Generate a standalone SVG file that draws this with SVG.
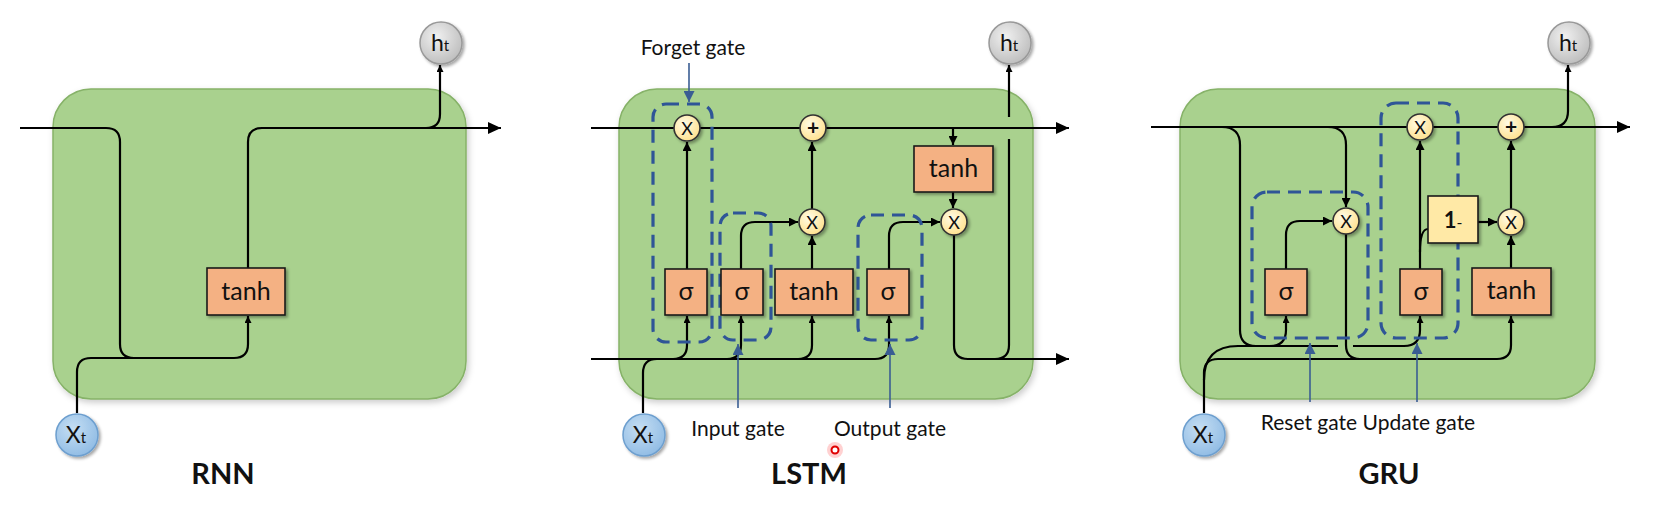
<svg xmlns="http://www.w3.org/2000/svg" width="1662" height="510" viewBox="0 0 1662 510">
<defs>
<filter id="sh" x="-20%" y="-20%" width="140%" height="140%"><feDropShadow dx="2" dy="2" stdDeviation="1.8" flood-color="#000" flood-opacity="0.35"/></filter>
<filter id="shc" x="-10%" y="-10%" width="120%" height="120%"><feDropShadow dx="2" dy="3" stdDeviation="3" flood-color="#000" flood-opacity="0.2"/></filter>
<radialGradient id="yg" cx="40%" cy="35%" r="70%"><stop offset="0" stop-color="#fffbe6"/><stop offset="1" stop-color="#ffe08a"/></radialGradient>
<radialGradient id="gg" cx="40%" cy="35%" r="70%"><stop offset="0" stop-color="#f0f0f0"/><stop offset="1" stop-color="#bcbcbc"/></radialGradient>
<radialGradient id="bg" cx="40%" cy="35%" r="70%"><stop offset="0" stop-color="#c5def3"/><stop offset="1" stop-color="#8fbbe4"/></radialGradient>
<marker id="ab" markerUnits="userSpaceOnUse" markerWidth="14" markerHeight="12" refX="13" refY="6" orient="auto"><path d="M0,0 L13,6 L0,12 Z" fill="#000"/></marker>
<marker id="as" markerUnits="userSpaceOnUse" markerWidth="10" markerHeight="9" refX="9" refY="4.5" orient="auto"><path d="M0,0 L9,4.5 L0,9 Z" fill="#000"/></marker>
<marker id="at" markerUnits="userSpaceOnUse" markerWidth="8" markerHeight="7" refX="7" refY="3.5" orient="auto"><path d="M0,0 L7,3.5 L0,7 Z" fill="#000"/></marker>
<marker id="ap" markerUnits="userSpaceOnUse" markerWidth="12" markerHeight="11" refX="11" refY="5.5" orient="auto"><path d="M0,0 L11,5.5 L0,11 Z" fill="#3a5d93"/></marker>
</defs>
<style>
.cell{fill:#a9d18e;stroke:#86b268;stroke-width:1.5;filter:url(#shc)}
.box{fill:#f4b183;stroke:#1a1a1a;stroke-width:1.6;filter:url(#sh)}
.one{fill:#ffe9a6;stroke:#1a1a1a;stroke-width:1.6;filter:url(#sh)}
.op{fill:url(#yg);stroke:#333;stroke-width:1.6;filter:url(#sh)}
.ht{fill:url(#gg);stroke:#999;stroke-width:1.5;filter:url(#sh)}
.xt{fill:url(#bg);stroke:#6d9fcf;stroke-width:1.5;filter:url(#sh)}
.ln{fill:none;stroke:#000;stroke-width:2.2}
.big{marker-end:url(#ab)}
.sm{marker-end:url(#as)}
.tn{marker-end:url(#at)}
.dash{fill:none;stroke:#2f5597;stroke-width:3.2;stroke-dasharray:13 8}
.ptr{fill:none;stroke:#3a5d93;stroke-width:1.6;marker-end:url(#ap)}
text{font-family:Lato,'Open Sans','Liberation Sans',sans-serif;fill:#111}
.bt{font-size:25px;text-anchor:middle}
.ot{font-size:18px;text-anchor:middle}
.pl{font-size:21px;font-weight:bold;text-anchor:middle}
.lb{font-size:21px}
.tt{font-size:29px;font-weight:bold;text-anchor:middle}
.cv{font-size:23px;text-anchor:middle}
</style>
<rect width="1662" height="510" fill="#fff"/>

<!-- ================= RNN ================= -->
<g id="rnn-cell"><rect class="cell" x="53" y="89" width="413" height="310" rx="38"/></g>
<g id="rnn-connectors">
<path class="ln tn" d="M20,128 H106 Q120,128 120,142 V344 Q120,358 134,358 H234 Q248,358 248,344 V316"/>
<path class="ln" d="M77,413 V372 Q77,358 91,358 H134"/>
<path class="ln big" d="M248,268 V142 Q248,128 262,128 H501"/>
<path class="ln tn" d="M426,128 Q440,128 440,114 V65"/>
</g>
<g id="rnn-tanh"><rect class="box" x="207" y="268" width="78" height="47"/><text class="bt" x="246" y="300">tanh</text></g>
<g id="rnn-ht"><circle class="ht" cx="441" cy="43" r="21"/><text class="cv" x="440" y="51">h<tspan font-size="15">t</tspan></text></g>
<g id="rnn-xt"><circle class="xt" cx="77" cy="435" r="21"/><text class="cv" x="76" y="443">X<tspan font-size="15">t</tspan></text></g>
<g id="rnn-label"><text class="tt" x="223" y="484">RNN</text></g>

<!-- ================= LSTM ================= -->
<g id="lstm-cell"><rect class="cell" x="619" y="89" width="414" height="310" rx="38"/></g>
<g id="lstm-connectors">
<path class="ln big" d="M591,128 H1069"/>
<path class="ln tn" d="M591,359 H875 Q889,359 889,345 V316"/>
<path class="ln tn" d="M673,359 Q687,359 687,345 V316"/>
<path class="ln tn" d="M727,359 Q741,359 741,345 V316"/>
<path class="ln tn" d="M798,359 Q812,359 812,345 V316"/>
<path class="ln" d="M643,413 V373 Q643,359 657,359"/>
<path class="ln sm" d="M687,269 V142"/>
<path class="ln sm" d="M741,269 V236 Q741,222 755,222 H798"/>
<path class="ln sm" d="M812,269 V236"/>
<path class="ln sm" d="M812,209 V142"/>
<path class="ln sm" d="M953,128 V145"/>
<path class="ln sm" d="M953,192 V208"/>
<path class="ln sm" d="M889,269 V236 Q889,222 903,222 H940"/>
<path class="ln big" d="M954,235 V345 Q954,359 968,359 H1069"/>
<path class="ln" d="M995,359 Q1009,359 1009,345 V139"/>
<path class="ln tn" d="M1009,117 V65"/>
</g>
<g id="lstm-forget-gate"><rect class="dash" x="653" y="104" width="59" height="238" rx="13"/><path class="ptr" d="M689,63 V102"/><text class="lb" x="693" y="55" text-anchor="middle">Forget gate</text></g>
<g id="lstm-input-gate"><rect class="dash" x="720" y="213" width="51" height="127" rx="13"/><path class="ptr" d="M738,408 V344"/><text class="lb" x="738" y="436" text-anchor="middle">Input gate</text></g>
<g id="lstm-output-gate"><rect class="dash" x="858" y="215" width="64" height="125" rx="13"/><path class="ptr" d="M890,408 V344"/><text class="lb" x="890" y="436" text-anchor="middle">Output gate</text></g>
<g id="lstm-sig1"><rect class="box" x="665" y="269" width="42" height="46"/><text class="bt" x="686" y="300">σ</text></g>
<g id="lstm-sig2"><rect class="box" x="721" y="269" width="42" height="46"/><text class="bt" x="742" y="300">σ</text></g>
<g id="lstm-tanh1"><rect class="box" x="775" y="269" width="78" height="46"/><text class="bt" x="814" y="300">tanh</text></g>
<g id="lstm-sig3"><rect class="box" x="867" y="269" width="42" height="46"/><text class="bt" x="888" y="300">σ</text></g>
<g id="lstm-tanh2"><rect class="box" x="914" y="146" width="79" height="46"/><text class="bt" x="953.5" y="177">tanh</text></g>
<g id="lstm-mul-f"><circle class="op" cx="687" cy="128" r="13"/><text class="ot" x="687" y="134.5">X</text></g>
<g id="lstm-add"><circle class="op" cx="813" cy="128" r="13"/><text class="pl" x="813" y="135">+</text></g>
<g id="lstm-mul-i"><circle class="op" cx="812" cy="222" r="13"/><text class="ot" x="812" y="228.5">X</text></g>
<g id="lstm-mul-o"><circle class="op" cx="954" cy="222" r="13"/><text class="ot" x="954" y="228.5">X</text></g>
<g id="lstm-ht"><circle class="ht" cx="1010" cy="43" r="21"/><text class="cv" x="1009" y="51">h<tspan font-size="15">t</tspan></text></g>
<g id="lstm-xt"><circle class="xt" cx="644" cy="435" r="21"/><text class="cv" x="643" y="443">X<tspan font-size="15">t</tspan></text></g>
<g id="lstm-label"><text class="tt" x="809" y="484">LSTM</text></g>
<g id="cursor"><circle cx="835" cy="450" r="8" fill="#ff9a9a" opacity="0.45"/><circle cx="835" cy="450" r="3.5" fill="#fff" stroke="#e00000" stroke-width="2"/></g>

<!-- ================= GRU ================= -->
<g id="gru-cell"><rect class="cell" x="1180" y="89" width="415" height="310" rx="38"/></g>
<g id="gru-connectors">
<path class="ln big" d="M1151,127 H1630"/>
<path class="ln" d="M1222,127 Q1240,127 1240,145 V330 Q1240,346 1256,346"/>
<path class="ln" d="M1204,380 Q1204,346 1238,346 H1338"/>
<path class="ln tn" d="M1353,346 H1404 Q1420,346 1420,330 V316"/>
<path class="ln tn" d="M1270,346 Q1286,346 1286,330 V316"/>
<path class="ln tn" d="M1204,413 V373 Q1204,359 1218,359 H1497 Q1511,359 1511,345 V316"/>
<path class="ln" d="M1346,234 V345 Q1346,359 1360,359"/>
<path class="ln sm" d="M1328,127 Q1346,127 1346,145 V207"/>
<path class="ln sm" d="M1286,269 V235 Q1286,221 1300,221 H1332"/>
<path class="ln sm" d="M1420,269 V141"/>
<path class="ln" d="M1420,252 Q1420,229 1428,229"/>
<path class="ln sm" d="M1478,222 H1497"/>
<path class="ln sm" d="M1511,268 V236"/>
<path class="ln sm" d="M1511,209 V141"/>
<path class="ln tn" d="M1552,127 Q1568,127 1568,111 V65"/>
</g>
<g id="gru-reset-gate"><rect class="dash" x="1252" y="192" width="116" height="146" rx="15"/><path class="ptr" d="M1310,402 V343"/></g>
<g id="gru-update-gate"><rect class="dash" x="1381" y="103" width="77" height="235" rx="15"/><path class="ptr" d="M1417,402 V343"/></g>
<g id="gru-gate-labels"><text class="lb" x="1368" y="430" text-anchor="middle">Reset gate Update gate</text></g>
<g id="gru-sig-r"><rect class="box" x="1265" y="269" width="42" height="46"/><text class="bt" x="1286" y="300">σ</text></g>
<g id="gru-sig-z"><rect class="box" x="1400" y="269" width="42" height="46"/><text class="bt" x="1421" y="300">σ</text></g>
<g id="gru-tanh"><rect class="box" x="1472" y="268" width="79" height="47"/><text class="bt" x="1511.5" y="299">tanh</text></g>
<g id="gru-one-minus"><rect class="one" x="1428" y="196" width="50" height="47"/><text x="1453" y="228" font-size="22" text-anchor="middle"><tspan font-weight="bold">1</tspan><tspan font-size="16">-</tspan></text></g>
<g id="gru-mul-r"><circle class="op" cx="1346" cy="221" r="13"/><text class="ot" x="1346" y="227.5">X</text></g>
<g id="gru-mul-z"><circle class="op" cx="1420" cy="127" r="13"/><text class="ot" x="1420" y="133.5">X</text></g>
<g id="gru-add"><circle class="op" cx="1511" cy="127" r="13"/><text class="pl" x="1511" y="134">+</text></g>
<g id="gru-mul-h"><circle class="op" cx="1511" cy="222" r="13"/><text class="ot" x="1511" y="228.5">X</text></g>
<g id="gru-ht"><circle class="ht" cx="1569" cy="43" r="21"/><text class="cv" x="1568" y="51">h<tspan font-size="15">t</tspan></text></g>
<g id="gru-xt"><circle class="xt" cx="1204" cy="435" r="21"/><text class="cv" x="1203" y="443">X<tspan font-size="15">t</tspan></text></g>
<g id="gru-label"><text class="tt" x="1389" y="484">GRU</text></g>
</svg>
